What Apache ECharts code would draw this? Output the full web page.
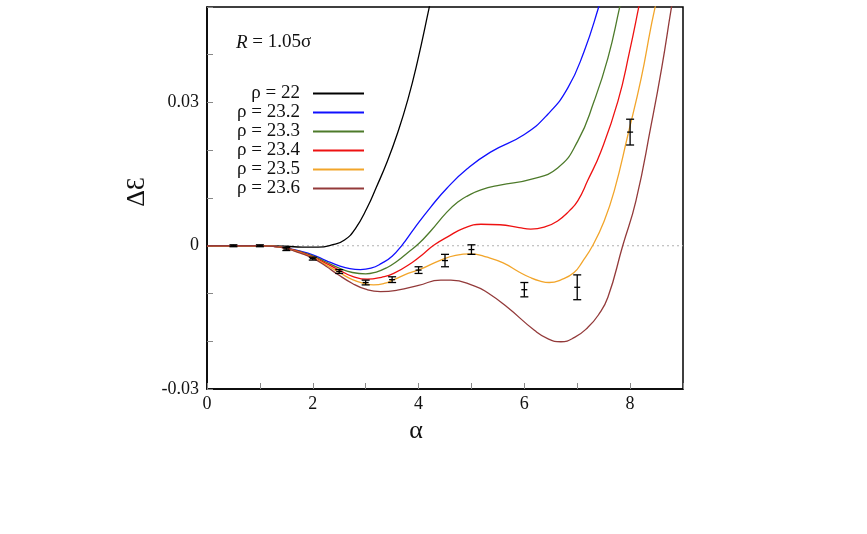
<html>
<head>
<meta charset="utf-8">
<script src="https://cdn.jsdelivr.net/npm/echarts@6/dist/echarts.min.js"></script>
<style>
  html, body { margin: 0; padding: 0; background: #fff; }
  #main { width: 867px; height: 534px; }
</style>
</head>
<body>
<div id="main"></div>
<script>
var serif = '"Liberation Serif", "DejaVu Serif", serif';

// curves: [alpha, deltaE]
var rho22 = [[0,0],[1,0],[1.5,-0.0001],[1.8,-0.0003],[2.1,-0.0003],[2.4,0.0003],[2.6,0.0012],[2.8,0.0035],
    [3.03,0.008],[3.2,0.0122],[3.41,0.0177],[3.6,0.0235],[3.8,0.0307],[3.98,0.0386],[4.2,0.0498],[4.3,0.055]];
var rho232 = [[0,0],[1,0],[1.25,-0.0001],[1.5,-0.0005],[1.75,-0.0011],[2,-0.0019],[2.25,-0.0031],[2.5,-0.0042],
    [2.7,-0.0048],[2.9,-0.005],[3.1,-0.0047],[3.3,-0.0037],[3.5,-0.0022],[3.7,0.0003],[3.91,0.0035],[4.23,0.0081],
    [4.54,0.0121],[4.92,0.0161],[5.36,0.0196],[6.0,0.0233],[6.44,0.0275],[6.82,0.033],[7.13,0.0407],[7.4,0.0498],[7.5,0.054]];
var rho233 = [[0,0],[1,0],[1.25,-0.0001],[1.5,-0.0005],[1.75,-0.0012],[2,-0.0021],[2.25,-0.0034],[2.5,-0.0047],
    [2.75,-0.0056],[3.0,-0.0059],[3.2,-0.0055],[3.4,-0.0046],[3.6,-0.0032],[3.8,-0.0014],[4.0,0.0004],[4.23,0.0031],
    [4.54,0.0071],[4.75,0.0092],[4.92,0.0104],[5.18,0.0117],[5.54,0.0127],[6.12,0.0139],[6.63,0.0163],[7.01,0.0219],
    [7.32,0.0303],[7.58,0.0393],[7.8,0.0498],[7.9,0.055]];
var rho234 = [[0,0],[1,0],[1.25,-0.0001],[1.5,-0.0005],[1.75,-0.0013],[2,-0.0023],[2.25,-0.0037],[2.5,-0.0051],
    [2.75,-0.0064],[3.03,-0.007],[3.3,-0.0066],[3.53,-0.0058],[3.88,-0.0035],[4.1,-0.0016],[4.3,0.0002],[4.54,0.0018],
    [4.86,0.0037],[5.18,0.0045],[5.54,0.0044],[5.9,0.0038],[6.12,0.0035],[6.4,0.004],[6.63,0.0052],[6.85,0.0073],
    [7.01,0.0094],[7.2,0.0137],[7.45,0.0198],[7.77,0.0303],[7.99,0.0407],[8.16,0.0498],[8.25,0.055]];
var rho235 = [[0,0],[1,0],[1.25,-0.0001],[1.5,-0.0006],[1.75,-0.0014],[2,-0.0025],[2.25,-0.004],[2.5,-0.0056],
    [2.75,-0.0071],[3.0,-0.008],[3.15,-0.0082],[3.35,-0.0079],[3.53,-0.0071],[3.8,-0.0058],[4.04,-0.0049],[4.42,-0.003],
    [4.7,-0.002],[4.99,-0.0017],[5.3,-0.0024],[5.6,-0.0036],[5.9,-0.0055],[6.1,-0.0066],[6.3,-0.0074],[6.47,-0.0077],
    [6.7,-0.0071],[6.94,-0.0056],[7.1,-0.0033],[7.29,0.0],[7.51,0.0052],[7.7,0.0115],[7.96,0.0233],[8.21,0.0351],
    [8.39,0.0456],[8.47,0.0498],[8.55,0.054]];
var rho236 = [[0,0],[1,0],[1.25,-0.0001],[1.5,-0.0006],[1.75,-0.0015],[2,-0.0026],[2.25,-0.0043],[2.46,-0.0059],
    [2.75,-0.0079],[3.0,-0.0091],[3.28,-0.0096],[3.6,-0.0093],[4.0,-0.0083],[4.42,-0.0072],[4.61,-0.0072],[5.05,-0.0084],
    [5.3,-0.0098],[5.68,-0.0129],[6.19,-0.0177],[6.45,-0.0195],[6.69,-0.0201],[6.95,-0.0192],[7.2,-0.0171],[7.4,-0.0145],
    [7.58,-0.0108],[7.86,0.0],[8.11,0.0094],[8.4,0.0254],[8.6,0.0374],[8.78,0.0498],[8.85,0.054]];

// simulation points with error bars
var simAlpha = [0.5, 1, 1.5, 2, 2.5, 3, 3.5, 4, 4.5, 5, 6, 7, 8];
var simValue = [0, 0, -0.0007, -0.0027, -0.0054, -0.0077, -0.0071, -0.0051, -0.0031, -0.0008, -0.0092, -0.0087, 0.0238];
var simError = [0.0002, 0.0002, 0.0003, 0.0003, 0.0004, 0.0005, 0.0006, 0.0007, 0.0013, 0.001, 0.0015, 0.0026, 0.0027];

var curveNames = ['ρ = 22', 'ρ = 23.2', 'ρ = 23.3', 'ρ = 23.4', 'ρ = 23.5', 'ρ = 23.6'];
var curveData = [rho22, rho232, rho233, rho234, rho235, rho236];
var curveColors = ['#000000', '#1010ff', '#4d7a2a', '#ee1111', '#f2a52a', '#933a3a'];

var series = [{
    name: 'zero',
    type: 'line',
    data: [[0, 0], [9, 0]],
    symbol: 'none',
    silent: true,
    lineStyle: { color: '#b0b0b0', type: [2, 3], width: 1 },
    z: 1
}];

curveData.forEach(function (d, i) {
    series.push({
        name: curveNames[i],
        type: 'line',
        data: d,
        smooth: true,
        symbol: 'none',
        lineStyle: { color: curveColors[i], width: 1.3 },
        itemStyle: { color: curveColors[i] },
        z: 3
    });
});

series.push({
    type: 'custom',
    name: 'sim',
    data: simAlpha.map(function (a, i) { return [a, simValue[i], simError[i]]; }),
    renderItem: function (params, api) {
        var x = api.value(0), y = api.value(1), e = api.value(2);
        var top = api.coord([x, y + e]);
        var bot = api.coord([x, y - e]);
        var mid = api.coord([x, y]);
        var cap = 4, tick = 3;
        var style = { stroke: '#000', lineWidth: 1.3 };
        return {
            type: 'group',
            children: [
                { type: 'line', shape: { x1: top[0], y1: top[1], x2: bot[0], y2: bot[1] }, style: style },
                { type: 'line', shape: { x1: top[0] - cap, y1: top[1], x2: top[0] + cap, y2: top[1] }, style: style },
                { type: 'line', shape: { x1: bot[0] - cap, y1: bot[1], x2: bot[0] + cap, y2: bot[1] }, style: style },
                { type: 'line', shape: { x1: mid[0] - tick, y1: mid[1], x2: mid[0] + tick, y2: mid[1] }, style: style }
            ]
        };
    },
    z: 5
});

var option = {
    backgroundColor: '#ffffff',
    animation: false,
    grid: {
        left: 207, right: 184, top: 7, bottom: 145,
        show: true, borderColor: '#000', borderWidth: 1.5, backgroundColor: 'transparent'
    },
    legend: {
        data: curveNames.map(function (n, i) {
            return { name: n, icon: 'rect', itemStyle: { color: curveColors[i] } };
        }),
        orient: 'vertical',
        align: 'right',
        right: 498,
        top: 79,
        itemWidth: 51,
        itemHeight: 2,
        itemGap: 0,
        selectedMode: false,
        textStyle: { fontFamily: serif, fontSize: 19, color: '#111', lineHeight: 19, padding: [0, 8, 0, 0] }
    },
    graphic: [{
        type: 'text',
        left: 236,
        top: 33,
        style: {
            text: '{i|R} = 1.05σ',
            rich: { i: { fontStyle: 'italic', fontFamily: serif, fontSize: 19 } },
            fontFamily: serif, fontSize: 19, fill: '#111'
        }
    }],
    xAxis: {
        type: 'value',
        min: 0, max: 9, interval: 1,
        name: 'α',
        nameLocation: 'middle',
        nameGap: 24,
        nameTextStyle: { fontFamily: serif, fontSize: 26, color: '#111', padding: [0, 58, 0, 0] },
        axisLine: { onZero: false, lineStyle: { color: '#000', width: 1.5 } },
        axisTick: { inside: true, length: 6, lineStyle: { color: '#888', width: 1 } },
        splitLine: { show: false },
        axisLabel: {
            fontFamily: serif, fontSize: 18, color: '#111', margin: 6,
            formatter: function (v) { return v % 2 === 0 ? String(v) : ''; }
        }
    },
    yAxis: {
        type: 'value',
        min: -0.03, max: 0.05, interval: 0.01,
        name: 'ΔƐ',
        nameLocation: 'middle',
        nameRotate: 90,
        nameGap: 39,
        nameTextStyle: { fontFamily: serif, fontSize: 26, color: '#111', padding: [0, 0, 0, 12] },
        axisLine: { onZero: false, lineStyle: { color: '#000', width: 1.5 } },
        axisTick: { inside: true, length: 6, lineStyle: { color: '#888', width: 1 } },
        splitLine: { show: false },
        axisLabel: {
            fontFamily: serif, fontSize: 18, color: '#111', margin: 8,
            formatter: function (v) {
                var r = Math.round(v * 100);
                if (r === -3) return '-0.03';
                if (r === 0) return '0';
                if (r === 3) return '0.03';
                return '';
            }
        }
    },
    series: series
};

var myChart = echarts.init(document.getElementById('main'));
myChart.setOption(option);
</script>
</body>
</html>
